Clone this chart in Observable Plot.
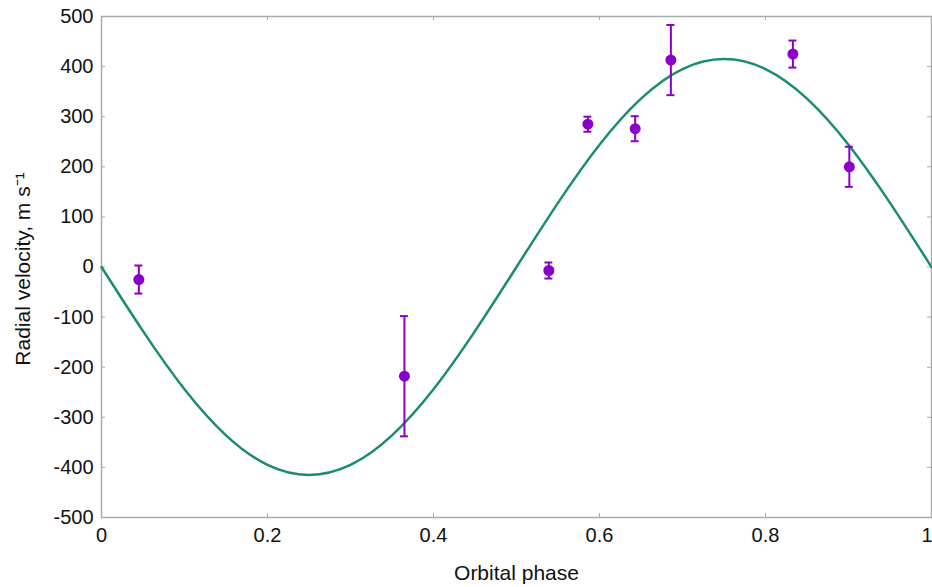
<!DOCTYPE html>
<html><head><meta charset="utf-8">
<script src="https://cdn.jsdelivr.net/npm/d3@7"></script>
<script src="https://cdn.jsdelivr.net/npm/@observablehq/plot@0.6"></script>
<style>body{margin:0;background:#fff;} svg{overflow:visible;}</style>
</head><body><div id="chart"></div>
<script>
// Observations
const obsPhase    = [0.045, 0.365, 0.539, 0.586, 0.643, 0.686, 0.833, 0.901];
const obsVelocity = [-25, -218, -7, 285, 276, 413, 425, 200];
const obsError    = [28, 120, 16, 15, 25, 70, 27, 40];

// Fitted curve
const fitPhase    = [0, 0.05, 0.1, 0.15, 0.2, 0.25, 0.3, 0.35, 0.4, 0.45, 0.5, 0.55, 0.6, 0.65, 0.7, 0.75, 0.8, 0.85, 0.9, 0.95, 1];
const fitVelocity = [0, -128, -244, -336, -395, -415, -395, -336, -244, -128, 0, 128, 244, 336, 395, 415, 395, 336, 244, 128, 0];

const xTicks = [0, 0.2, 0.4, 0.6, 0.8, 1];
const xTickLabels = ["0", "0.2", "0.4", "0.6", "0.8", "1"];
const yTicks = [-500, -400, -300, -200, -100, 0, 100, 200, 300, 400, 500];
const yTickLabels = ["-500", "-400", "-300", "-200", "-100", "0", "100", "200", "300", "400", "500"];

const obs = obsPhase.map((p, i) => ({phase: p, v: obsVelocity[i], lo: obsVelocity[i] - obsError[i], hi: obsVelocity[i] + obsError[i]}));
const fit = fitPhase.map((p, i) => ({phase: p, v: fitVelocity[i]}));
const xLab = xTicks.map((t, i) => ({t, label: xTickLabels[i]}));

const W = 932, H = 587, ML = 101, MR = 1, MT = 16, MB = 70;
const innerW = W - ML - MR, innerH = H - MT - MB, T = 4;
const axisColor = "#aaa";
const purple = "#8a00c8";

const chart = Plot.plot({
  width: W, height: H,
  marginLeft: ML, marginRight: MR, marginTop: MT, marginBottom: MB,
  style: {fontFamily: "'Liberation Sans', Arial, sans-serif", fontSize: "20px", color: "#111", background: "#fff"},
  x: {domain: [0, 1], axis: null},
  y: {domain: [-500, 500], ticks: yTicks, tickFormat: d => yTickLabels[yTicks.indexOf(d)], tickSize: 0, tickPadding: 8, label: null},
  marks: [
    Plot.frame({stroke: axisColor, strokeWidth: 1.5}),
    Plot.tickY(yTicks, {y: d => d, stroke: axisColor, insetRight: innerW - T}),
    Plot.tickY(yTicks, {y: d => d, stroke: axisColor, insetLeft: innerW - T}),
    Plot.tickX(xTicks, {x: d => d, stroke: axisColor, insetTop: innerH - T}),
    Plot.tickX(xTicks, {x: d => d, stroke: axisColor, insetBottom: innerH - T}),
    Plot.text(xLab.slice(0, -1), {x: "t", text: "label", frameAnchor: "bottom", lineAnchor: "top", dy: 10, fontSize: 20, fill: "#111"}),
    Plot.text(xLab.slice(-1), {x: "t", text: "label", frameAnchor: "bottom", lineAnchor: "top", textAnchor: "end", dx: 1, dy: 10, fontSize: 20, fill: "#111"}),
    Plot.line(fit, {x: "phase", y: "v", curve: "natural", stroke: "#1b8c72", strokeWidth: 2.5}),
    Plot.ruleX(obs, {x: "phase", y1: "lo", y2: "hi", stroke: purple, strokeWidth: 2}),
    Plot.ruleY(obs, {y: "hi", x1: "phase", x2: "phase", insetLeft: -4, insetRight: -4, stroke: purple, strokeWidth: 2}),
    Plot.ruleY(obs, {y: "lo", x1: "phase", x2: "phase", insetLeft: -4, insetRight: -4, stroke: purple, strokeWidth: 2}),
    Plot.dot(obs, {x: "phase", y: "v", r: 5.5, fill: purple, stroke: "none"}),
    Plot.text(["Orbital phase"], {text: d => d, frameAnchor: "bottom", lineAnchor: "middle", dy: 56, fontSize: 21, fill: "#111"}),
    Plot.text(["Radial velocity, m s\u207B\u00B9"], {text: d => d, frameAnchor: "left", textAnchor: "middle", lineAnchor: "middle", dx: -78, dy: 2, rotate: -90, fontSize: 21, fill: "#111"})
  ]
});
document.getElementById("chart").appendChild(chart);
</script>
</body></html>
